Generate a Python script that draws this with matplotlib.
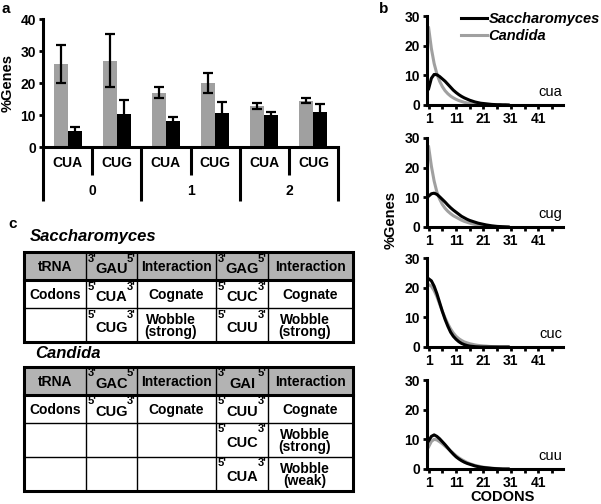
import numpy as np
import matplotlib.pyplot as plt
from matplotlib.patches import Rectangle
import matplotlib.transforms as mtransforms

plt.rcParams['font.family'] = ['Liberation Sans', 'DejaVu Sans']
plt.rcParams['font.weight'] = 'bold'
plt.rcParams['axes.labelweight'] = 'bold'

W, H = 601, 504
GREY = '#a0a0a0'

# ---- panel a data ----
codon_labels = ['CUA', 'CUG', 'CUA', 'CUG', 'CUA', 'CUG']
group_labels = ['0', '1', '2']
candida_pct = [26.0, 27.0, 17.0, 20.0, 12.8, 14.5]
candida_err = [6.0, 8.3, 1.8, 3.0, 0.9, 0.7]
sacch_pct = [5.0, 10.3, 8.0, 10.5, 10.0, 11.0]
sacch_err = [1.2, 4.3, 1.3, 3.5, 0.8, 2.5]

# ---- panel b data (percent of genes per codon count, codons 1..30) ----
codons = np.arange(1, 31)
panel_names = ['cua', 'cug', 'cuc', 'cuu']
sacch_curves = {
    'cua': [5.5, 9.0, 10.3, 10.2, 9.6, 8.8, 8.0, 7.0, 6.0, 5.0, 4.2, 3.5, 2.9, 2.4, 2.0,
            1.6, 1.3, 1.0, 0.8, 0.6, 0.5, 0.4, 0.3, 0.2, 0.15, 0.1, 0.1, 0.05, 0.05, 0.0],
    'cug': [10.4, 11.2, 11.4, 11.0, 10.2, 9.3, 8.4, 7.4, 6.5, 5.7, 5.0, 4.3, 3.6, 3.1, 2.6,
            2.2, 1.9, 1.6, 1.3, 1.1, 0.9, 0.7, 0.55, 0.4, 0.3, 0.2, 0.15, 0.1, 0.05, 0.0],
    'cuc': [23.0, 22.3, 20.5, 18.0, 15.0, 12.0, 9.3, 7.0, 5.0, 3.6, 2.6, 1.8, 1.2, 0.8, 0.5,
            0.3, 0.2, 0.1, 0.05, 0.0, 0.0, 0.0, 0.0, 0.0, 0.0, 0.0, 0.0, 0.0, 0.0, 0.0],
    'cuu': [9.5, 11.0, 11.5, 11.0, 10.2, 9.2, 8.2, 7.1, 6.0, 5.0, 4.1, 3.4, 2.8, 2.3, 1.9,
            1.6, 1.3, 1.0, 0.8, 0.6, 0.5, 0.4, 0.3, 0.2, 0.15, 0.1, 0.05, 0.0, 0.0, 0.0],
}
candida_curves = {
    'cua': [26.0, 19.0, 14.0, 10.5, 8.0, 6.2, 4.8, 3.8, 3.0, 2.4, 1.9, 1.5, 1.2, 0.9, 0.7,
            0.5, 0.4, 0.3, 0.2, 0.15, 0.1, 0.08, 0.05, 0.03, 0.02, 0.0, 0.0, 0.0, 0.0, 0.0],
    'cug': [27.0, 20.5, 15.5, 11.8, 9.4, 7.6, 6.3, 5.3, 4.5, 3.8, 3.3, 2.8, 2.3, 1.9, 1.6,
            1.3, 1.05, 0.85, 0.7, 0.55, 0.45, 0.35, 0.25, 0.2, 0.15, 0.1, 0.05, 0.0, 0.0, 0.0],
    'cuc': [21.0, 20.5, 19.0, 17.0, 14.5, 12.0, 9.8, 7.8, 6.1, 4.7, 3.6, 2.8, 2.2, 1.7, 1.4,
            1.1, 0.9, 0.7, 0.55, 0.45, 0.35, 0.3, 0.2, 0.15, 0.1, 0.05, 0.0, 0.0, 0.0, 0.0],
    'cuu': [7.5, 9.3, 10.0, 9.8, 9.2, 8.5, 7.7, 6.9, 6.1, 5.3, 4.5, 3.8, 3.2, 2.7, 2.2,
            1.8, 1.5, 1.2, 1.0, 0.8, 0.6, 0.5, 0.4, 0.3, 0.2, 0.15, 0.1, 0.05, 0.0, 0.0],
}

# ---- panel c tables ----
sacch_table = [
    ['tRNA', ("3'", 'GAU', "5'"), 'Interaction', ("3'", 'GAG', "5'"), 'Interaction'],
    ['Codons', ("5'", 'CUA', "3'"), 'Cognate', ("5'", 'CUC', "3'"), 'Cognate'],
    ['', ("5'", 'CUG', "3'"), 'Wobble\n(strong)', ("5'", 'CUU', "3'"), 'Wobble\n(strong)'],
]
candida_table = [
    ['tRNA', ("3'", 'GAC', "5'"), 'Interaction', ("3'", 'GAI', "5'"), 'Interaction'],
    ['Codons', ("5'", 'CUG', "3'"), 'Cognate', ("5'", 'CUU', "3'"), 'Cognate'],
    ['', '', '', ("5'", 'CUC', "3'"), 'Wobble\n(strong)'],
    ['', '', '', ("5'", 'CUA', "3'"), 'Wobble\n(weak)'],
]

fig = plt.figure(figsize=(W / 100, H / 100), dpi=100)


def px_axes(l, t, r, b):
    return fig.add_axes([l / W, 1 - b / H, (r - l) / W, (b - t) / H])


# ================= panel a =================
ax = px_axes(43, 19, 338, 147)
x = np.arange(len(codon_labels))
bw = 0.286
ax.bar(x - bw / 2, candida_pct, bw, color=GREY, yerr=candida_err,
       error_kw=dict(ecolor='black', elinewidth=1.6, capsize=3.5, capthick=1.6))
ax.bar(x + bw / 2, sacch_pct, bw, color='black', yerr=sacch_err,
       error_kw=dict(ecolor='black', elinewidth=1.6, capsize=3.5, capthick=1.6))
ax.set_xlim(-0.5, 5.5)
ax.set_ylim(0, 40)
ax.set_yticks([0, 10, 20, 30, 40])
ax.tick_params(axis='y', labelsize=10, width=2, length=3, pad=2)
ax.set_xticks([])
for s in ['top', 'right']:
    ax.spines[s].set_visible(False)
for s in ['left', 'bottom']:
    ax.spines[s].set_linewidth(2.2)
ax.set_ylabel('%Genes', fontsize=10.5, labelpad=4)

trans = mtransforms.blended_transform_factory(ax.transData, ax.transAxes)
for i, lab in enumerate(codon_labels):
    ax.text(i, -0.125, lab, transform=trans, ha='center', va='center', fontsize=10)
for g, lab in enumerate(group_labels):
    ax.text(2 * g + 0.5, -0.345, lab, transform=trans, ha='center', va='center', fontsize=10)
for xs in [-0.5, 1.5, 3.5, 5.5]:
    ax.plot([xs, xs], [0, -0.42], transform=trans, color='black', lw=2.2,
            clip_on=False, solid_capstyle='butt')
for xs in [0.5, 2.5, 4.5]:
    ax.plot([xs, xs], [0, -0.22], transform=trans, color='black', lw=2.2,
            clip_on=False, solid_capstyle='butt')

# ================= panel b =================
tops = [16, 138, 258, 380]
for k, name in enumerate(panel_names):
    axb = px_axes(427, tops[k], 563, tops[k] + 89)
    lc, = axb.plot(codons, candida_curves[name], color=GREY, lw=2.2)
    ls, = axb.plot(codons, sacch_curves[name], color='black', lw=2.2)
    axb.set_xlim(0.4, 50)
    axb.set_ylim(0, 30)
    axb.set_yticks([0, 10, 20, 30])
    axb.set_xticks([1, 11, 21, 31, 41])
    axb.set_xticks([6, 16, 26, 36, 46], minor=True)
    axb.tick_params(axis='both', which='both', labelsize=10, width=2, length=3, pad=2)
    for s in ['top', 'right']:
        axb.spines[s].set_visible(False)
    for s in ['left', 'bottom']:
        axb.spines[s].set_linewidth(2.2)
    axb.text(0.995, 0.065, name, transform=axb.transAxes, ha='right', va='bottom',
             fontsize=10.5, fontweight='normal')
    if k == 0:
        axb.legend([ls, lc], ['Saccharomyces', 'Candida'], loc='upper left',
                   bbox_to_anchor=(0.25, 1.04), frameon=False, borderpad=0,
                   borderaxespad=0, handlelength=1.75, handletextpad=0.15,
                   labelspacing=0.15, prop=dict(size=10.5, weight='bold', style='italic'))

fig.text(391 / W, 1 - 220 / H, '%Genes', rotation=90, ha='center', va='center', fontsize=10.5)
fig.text(503 / W, 1 - 497 / H, 'CODONS', ha='center', va='center', fontsize=10.5)

# ================= panel c =================
axt = fig.add_axes([0, 0, 1, 1])
axt.set_xlim(0, W)
axt.set_ylim(H, 0)
axt.axis('off')

col_edges = [24, 86, 137, 216, 268, 353]


def draw_table(rows, row_edges, title, title_y, title_x):
    axt.text(title_x, title_y, title, ha='left', va='center', fontsize=12,
             style='italic')
    x0, x1 = col_edges[0], col_edges[-1]
    axt.add_patch(Rectangle((x0, row_edges[0]), x1 - x0, row_edges[1] - row_edges[0],
                            facecolor='#b3b3b3', edgecolor='none'))
    for xe in col_edges[1:-1]:
        axt.plot([xe, xe], [row_edges[0], row_edges[-1]], color='black', lw=1.0)
    for ye in row_edges[2:-1]:
        axt.plot([x0, x1], [ye, ye], color='black', lw=1.0)
    axt.plot([x0, x1], [row_edges[1], row_edges[1]], color='black', lw=2.2)
    axt.add_patch(Rectangle((x0, row_edges[0]), x1 - x0, row_edges[-1] - row_edges[0],
                            facecolor='none', edgecolor='black', lw=2.2))
    for r, row in enumerate(rows):
        ya, yb = row_edges[r], row_edges[r + 1]
        yc = (ya + yb) / 2
        for c, cell in enumerate(row):
            xa, xb = col_edges[c], col_edges[c + 1]
            xc = (xa + xb) / 2
            if isinstance(cell, tuple):
                left, main, right = cell
                axt.text(xc, yc + 3, main, ha='center', va='center', fontsize=10.5)
                axt.text(xa + 2, ya + 1.5, left, ha='left', va='top', fontsize=8)
                axt.text(xb - 1.5, ya + 1.5, right, ha='right', va='top', fontsize=8)
            elif '\n' in cell:
                axt.text(xa + 0.43 * (xb - xa), yc + 1, cell, ha='center', va='center',
                         fontsize=10, linespacing=0.9)
            elif cell:
                axt.text(xc, yc + 1, cell, ha='center', va='center', fontsize=10)


draw_table(sacch_table, [252, 280, 308, 342], 'Saccharomyces', 237, 30)
draw_table(candida_table, [367, 395, 423, 457, 491], 'Candida', 353, 35)

fig.text(1 / W, 1 - 9 / H, 'a', ha='left', va='center', fontsize=11)
fig.text(379 / W, 1 - 9 / H, 'b', ha='left', va='center', fontsize=11)
fig.text(8 / W, 1 - 224 / H, 'c', ha='left', va='center', fontsize=11)

fig.savefig('out.png', dpi=100)
